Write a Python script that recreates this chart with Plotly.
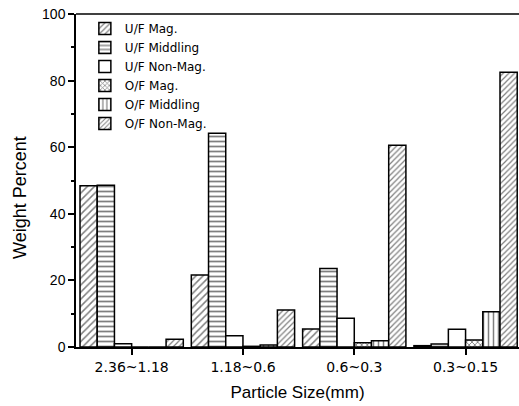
import plotly.graph_objects as go

categories = ["2.36~1.18", "1.18~0.6", "0.6~0.3", "0.3~0.15"]
series_names = ["U/F Mag.", "U/F Middling", "U/F Non-Mag.", "O/F Mag.", "O/F Middling", "O/F Non-Mag."]
uf_mag = [48.4, 21.6, 5.4, 0.4]
uf_middling = [48.6, 64.2, 23.6, 0.9]
uf_nonmag = [1.0, 3.4, 8.6, 5.3]
of_mag = [0.0, 0.2, 1.3, 2.1]
of_middling = [0.0, 0.6, 1.9, 10.6]
of_nonmag = [2.3, 11.1, 60.6, 82.5]
values = [uf_mag, uf_middling, uf_nonmag, of_mag, of_middling, of_nonmag]

patterns = [
    dict(shape="/", size=5, solidity=0.3),
    dict(shape="-", size=5, solidity=0.35),
    dict(shape="", size=5, solidity=0.3),
    dict(shape="x", size=4, solidity=0.4),
    dict(shape="|", size=5, solidity=0.3),
    dict(shape="/", size=4, solidity=0.3),
]

fig = go.Figure()
for name, vals, pat in zip(series_names, values, patterns):
    p = dict(pat)
    p.update(fgcolor="black", bgcolor="white", fillmode="overlay")
    fig.add_trace(go.Bar(
        x=categories, y=vals, name=name,
        marker=dict(color="white", line=dict(color="black", width=1.5), pattern=p),
    ))

fig.update_layout(
    width=519, height=406,
    margin=dict(l=76, r=0, t=14, b=59),
    paper_bgcolor="white", plot_bgcolor="white",
    barmode="group", bargap=0.072, bargroupgap=0,
    font=dict(family="Arial", size=14, color="black"),
    showlegend=True,
    legend=dict(x=0.02, y=1.0, xanchor="left", yanchor="top",
                bgcolor="rgba(0,0,0,0)", borderwidth=0,
                font=dict(family="DejaVu Sans", size=12, color="black"),
                tracegroupgap=0, itemwidth=30),
    annotations=[dict(text="Weight Percent", textangle=-90, xref="paper", yref="paper",
                      x=-0.127, y=0.45, xanchor="center", yanchor="middle", showarrow=False,
                      font=dict(family="Arial", size=18, color="black"))],
    shapes=[dict(type="line", xref="paper", yref="paper", x0=0, x1=1, y0=1, y1=1,
                 line=dict(color="black", width=1.5))],
)
fig.update_xaxes(
    automargin=False, range=[-0.5, 3.48],
    showline=True, linecolor="black", linewidth=1.5, mirror=False,
    ticks="outside", ticklen=6, tickwidth=1.5, tickcolor="black",
    showgrid=False, zeroline=False,
    tickfont=dict(family="DejaVu Sans", size=14),
    title=dict(text="Particle Size(mm)", font=dict(family="Arial", size=17), standoff=13),
)
fig.update_yaxes(
    automargin=False,
    range=[0, 100], dtick=20, showline=True, linecolor="black", linewidth=1.5, mirror=False,
    ticks="outside", ticklen=6, tickwidth=1.5, tickcolor="black",
    minor=dict(dtick=10, ticks="outside", ticklen=3, tickcolor="black", showgrid=False),
    showgrid=False, zeroline=False,
    tickfont=dict(family="Arial", size=14),
)

fig.write_html("out.html")
